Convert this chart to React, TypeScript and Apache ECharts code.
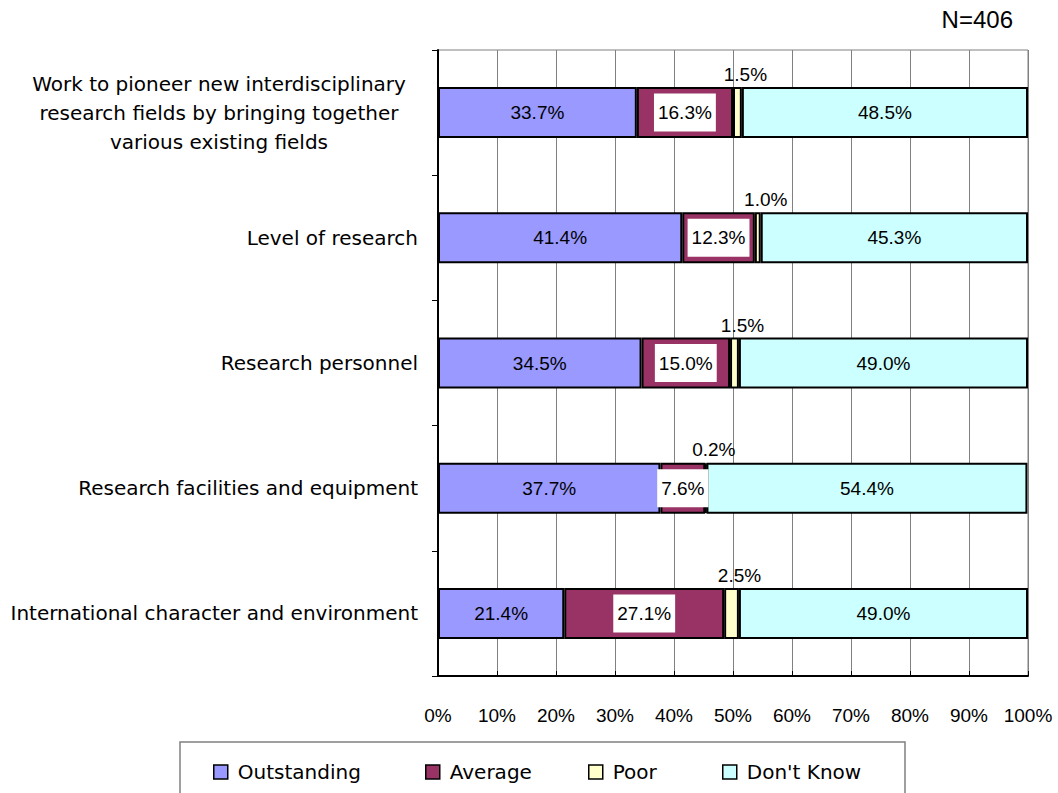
import React, { useEffect, useRef } from "react";
import * as echarts from "echarts";

const categories = [
  "Work to pioneer new interdisciplinary\nresearch fields by bringing together\nvarious existing fields",
  "Level of research",
  "Research personnel",
  "Research facilities and equipment",
  "International character and environment",
];
const seriesNames = ["Outstanding", "Average", "Poor", "Don't Know"];
const outstanding = [33.7, 41.4, 34.5, 37.7, 21.4];
const average = [16.3, 12.3, 15.0, 7.6, 27.1];
const poor = [1.5, 1.0, 1.5, 0.2, 2.5];
const dontKnow = [48.5, 45.3, 49.0, 54.4, 49.0];
const sampleNote = "N=406";

const LABEL_FONT = "DejaVu Sans";
const NUM_FONT = "'Liberation Sans Narrow', 'Liberation Sans', sans-serif";
const legendLefts = [213, 425, 588, 722];

export default function App() {
  const ref = useRef<HTMLDivElement>(null);
  useEffect(() => {
    if (!ref.current) return;
    const chart = echarts.init(ref.current, undefined, { renderer: "svg" });
    const pct = (p: any) => `${Number(p.value).toFixed(1)}%`;
    const baseBar = {
      type: "bar",
      stack: "total",
      barWidth: 51,
      itemStyle: { borderColor: "#000", borderWidth: 2 },
    };
    const numLabel = {
      show: true,
      color: "#000",
      fontFamily: NUM_FONT,
      fontSize: 19,
      formatter: pct,
    };
    chart.setOption({
      animation: false,
      textStyle: { fontFamily: LABEL_FONT },
      title: {
        text: sampleNote,
        right: 40,
        top: 2,
        textStyle: { fontFamily: NUM_FONT, fontSize: 24, fontWeight: "normal", color: "#000" },
      },
      grid: {
        left: 438,
        right: 30,
        top: 50,
        bottom: 117,
        show: true,
        borderColor: "#808080",
        borderWidth: 1,
      },
      xAxis: {
        type: "value",
        min: 0,
        max: 100,
        interval: 10,
        axisLine: { show: true, lineStyle: { color: "#000", width: 2 } },
        axisTick: { show: true, inside: true, length: 5, lineStyle: { color: "#000" } },
        splitLine: { show: true, lineStyle: { color: "#808080", width: 1 } },
        axisLabel: {
          formatter: "{value}%",
          margin: 30,
          color: "#000",
          fontFamily: NUM_FONT,
          fontSize: 19,
        },
      },
      yAxis: {
        type: "category",
        inverse: true,
        data: categories,
        axisLine: { show: true, lineStyle: { color: "#000", width: 2 } },
        axisTick: { show: true, length: 6, lineStyle: { color: "#000" } },
        splitLine: { show: false },
        axisLabel: {
          margin: 20,
          color: "#000",
          fontFamily: LABEL_FONT,
          fontSize: 20,
          formatter: (v: string) =>
            v.includes("\n")
              ? v
                  .split("\n")
                  .map((l) => `{m|${l}}`)
                  .join("\n")
              : v,
          rich: {
            m: {
              width: 398,
              align: "center",
              lineHeight: 29,
              fontSize: 20,
              fontFamily: LABEL_FONT,
              color: "#000",
            },
          },
        },
      },
      legend: seriesNames.map((name, i) => ({
        data: [name],
        left: legendLefts[i],
        top: 762,
        padding: 0,
        itemWidth: 14,
        itemHeight: 14,
        itemGap: 0,
        icon: "rect",
        selectedMode: false,
        itemStyle: { borderColor: "#000", borderWidth: 1.5 },
        textStyle: {
          fontFamily: LABEL_FONT,
          fontSize: 20,
          color: "#000",
          padding: [0, 0, 0, 5],
        },
      })),
      graphic: [
        {
          type: "rect",
          shape: { x: 180, y: 742, width: 725, height: 80 },
          style: { fill: "none", stroke: "#808080", lineWidth: 1.5 },
          silent: true,
        },
      ],
      series: [
        {
          ...baseBar,
          name: seriesNames[0],
          data: outstanding,
          itemStyle: { ...baseBar.itemStyle, color: "#9999FF" },
          label: { ...numLabel, position: "inside" },
        },
        {
          ...baseBar,
          name: seriesNames[1],
          data: average,
          itemStyle: { ...baseBar.itemStyle, color: "#993366" },
          label: {
            ...numLabel,
            position: "inside",
            backgroundColor: "#fff",
            padding: [10, 4, 9, 4],
          },
        },
        {
          ...baseBar,
          name: seriesNames[2],
          data: poor,
          itemStyle: { ...baseBar.itemStyle, color: "#FFFFCC" },
          label: { ...numLabel, position: "top", distance: 3, offset: [8, 0] },
        },
        {
          ...baseBar,
          name: seriesNames[3],
          data: dontKnow,
          itemStyle: { ...baseBar.itemStyle, color: "#CCFFFF" },
          label: { ...numLabel, position: "inside" },
        },
      ],
    });
    return () => chart.dispose();
  }, []);
  return (
    <div
      ref={ref}
      style={{ position: "fixed", left: 0, top: 0, width: 1058, height: 793, background: "#fff" }}
    />
  );
}
